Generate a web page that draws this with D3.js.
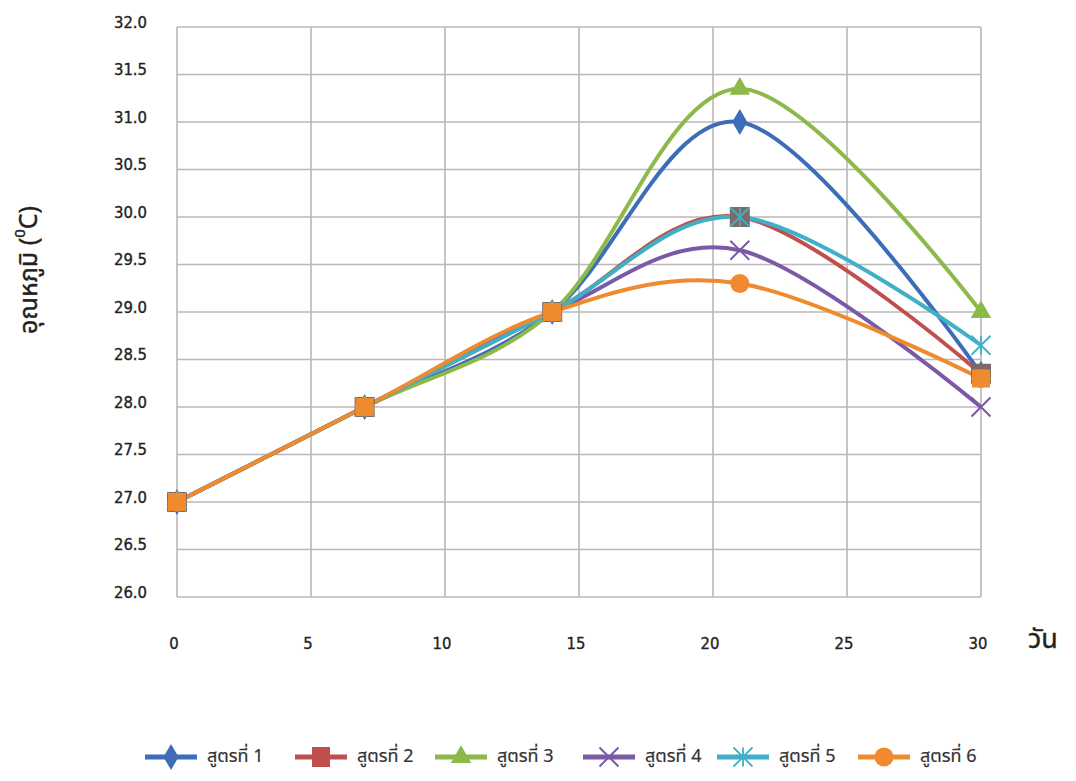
<!DOCTYPE html>
<html><head><meta charset="utf-8">
<script src="https://cdn.jsdelivr.net/npm/d3@7"></script>
<style>body{margin:0;background:#fff}</style>
</head><body>
<script>
const days = [0, 7, 14, 21, 30];
const seriesNames = ["สูตรที่ 1","สูตรที่ 2","สูตรที่ 3","สูตรที่ 4","สูตรที่ 5","สูตรที่ 6"];
const s1 = [27, 28, 29, 31.0, 28.35];
const s2 = [27, 28, 29, 30.0, 28.35];
const s3 = [27, 28, 29, 31.35, 29.0];
const s4 = [27, 28, 29, 29.65, 28.0];
const s5 = [27, 28, 29, 30.0, 28.65];
const s6 = [27, 28, 29, 29.3, 28.3];
const xTicks = [0, 5, 10, 15, 20, 25, 30];
const yTicks = [26.0,26.5,27.0,27.5,28.0,28.5,29.0,29.5,30.0,30.5,31.0,31.5,32.0];

const colors = ["#3d6db8","#c0504d","#8db84a","#7a5aa6","#3fb0c8","#ef8a2e"];
const markers = ["diamond","square","triangle","x","star","circle"];
const allSeries = [s1,s2,s3,s4,s5,s6];

const W = 1076, H = 781;
const svg = d3.select("body").append("svg").attr("width", W).attr("height", H);
const x = d3.scaleLinear().domain([0, 30]).range([177, 981]);
const y = d3.scaleLinear().domain([26, 32]).range([597, 27]);

// gridlines
svg.append("g").selectAll("line.h").data(yTicks).join("line")
  .attr("x1", x(0)).attr("x2", x(30)).attr("y1", d => y(d)).attr("y2", d => y(d))
  .attr("stroke", "#b8b8b8").attr("stroke-width", 1.6);
svg.append("g").selectAll("line.v").data(xTicks).join("line")
  .attr("y1", y(26)).attr("y2", y(32)).attr("x1", d => x(d)).attr("x2", d => x(d))
  .attr("stroke", "#b8b8b8").attr("stroke-width", 1.6);

// axis labels
const tickFont = "'DejaVu Sans Condensed', 'DejaVu Sans', sans-serif";
svg.append("g").selectAll("text").data(yTicks).join("text")
  .attr("x", 147).attr("y", d => y(d) - 4).attr("text-anchor", "end")
  .attr("dominant-baseline", "middle")
  .attr("font-family", tickFont).attr("font-size", 16.5).attr("fill", "#222")
  .attr("stroke", "#222").attr("stroke-width", 0.35)
  .text(d => d.toFixed(1));
svg.append("g").selectAll("text").data(xTicks).join("text")
  .attr("x", d => x(d) - 3).attr("y", 644).attr("text-anchor", "middle")
  .attr("dominant-baseline", "middle")
  .attr("font-family", tickFont).attr("font-size", 16.5).attr("fill", "#222")
  .attr("stroke", "#222").attr("stroke-width", 0.35)
  .text(d => d);

const thaiFont = "'Noto Sans Thai','Loma','Tahoma','Noto Sans',sans-serif";
svg.append("text").attr("x", 1043).attr("y", 640).attr("text-anchor", "middle")
  .attr("dominant-baseline", "middle")
  .attr("font-family", thaiFont).attr("font-size", 27).attr("fill", "#222")
  .attr("stroke", "#222").attr("stroke-width", 0.4).text("วัน");

const yt = svg.append("text").attr("transform", "translate(30,270) rotate(-90)")
  .attr("text-anchor", "middle").attr("dominant-baseline", "middle")
  .attr("font-family", thaiFont).attr("font-size", 25).attr("fill", "#222")
  .attr("stroke", "#222").attr("stroke-width", 0.4);
yt.append("tspan").text("อุณหภูมิ (");
yt.append("tspan").attr("font-size", 15).attr("dy", -9).text("0");
yt.append("tspan").attr("dy", 9).text("C)");

// lines
const line = d3.line().x((d, i) => x(days[i])).y(d => y(d)).curve(d3.curveCardinal.tension(0));
svg.append("g").selectAll("path").data(allSeries).join("path")
  .attr("d", d => line(d)).attr("fill", "none")
  .attr("stroke", (d, i) => colors[i]).attr("stroke-width", 4);

function drawMarker(g, type, color, cx, cy, s) {
  if (type === "diamond") {
    g.append("path").attr("d", d3.symbol(d3.symbolDiamond, s * s * 0.55)())
      .attr("transform", `translate(${cx},${cy})`).attr("fill", color);
  } else if (type === "square") {
    g.append("rect").attr("x", cx - s / 2).attr("y", cy - s / 2).attr("width", s).attr("height", s)
      .attr("fill", "#7d6a66");
  } else if (type === "triangle") {
    g.append("path").attr("d", d3.symbol(d3.symbolTriangle, s * s * 0.5)())
      .attr("transform", `translate(${cx},${cy})`).attr("fill", color);
  } else if (type === "x") {
    const r = s / 2;
    g.append("path").attr("d", `M${cx-r},${cy-r}L${cx+r},${cy+r}M${cx-r},${cy+r}L${cx+r},${cy-r}`)
      .attr("stroke", color).attr("stroke-width", 2);
  } else if (type === "star") {
    const r = s / 2;
    g.append("path").attr("d", `M${cx-r},${cy-r}L${cx+r},${cy+r}M${cx-r},${cy+r}L${cx+r},${cy-r}M${cx},${cy-r}L${cx},${cy+r}`)
      .attr("stroke", color).attr("stroke-width", 1.8);
  } else if (type === "circle") {
    g.append("circle").attr("cx", cx).attr("cy", cy).attr("r", s / 2).attr("fill", color);
  }
}

const mg = svg.append("g");
allSeries.forEach((ser, si) => {
  ser.forEach((v, i) => {
    drawMarker(mg, markers[si], colors[si], x(days[i]), y(v), si === 1 ? 20 : 19);
  });
});
// series 6 overlapping squares at shared points appear orange
allSeries[5].forEach((v, i) => {
  if (i < 3 || i === 4) {
    mg.append("rect").attr("x", x(days[i]) - 9).attr("y", y(v) - 9).attr("width", 18).attr("height", 18)
      .attr("fill", colors[5]);
  }
});

// legend
const legendX = [145, 295, 435, 583, 717, 858];
const lg = svg.append("g");
seriesNames.forEach((name, i) => {
  const lx = legendX[i], ly = 757;
  lg.append("line").attr("x1", lx).attr("x2", lx + 52).attr("y1", ly).attr("y2", ly)
    .attr("stroke", colors[i]).attr("stroke-width", 5);
  if (i === 1) {
    lg.append("rect").attr("x", lx + 17).attr("y", ly - 10).attr("width", 18).attr("height", 20).attr("fill", colors[1]);
  } else {
    drawMarker(lg, markers[i], colors[i], lx + 26, ly, 19);
  }
  lg.append("text").attr("x", lx + 62).attr("y", ly).attr("dominant-baseline", "middle")
    .attr("font-family", thaiFont).attr("font-size", 18).attr("fill", "#333")
    .attr("stroke", "#333").attr("stroke-width", 0.2).text(name);
});
</script>
</body></html>
